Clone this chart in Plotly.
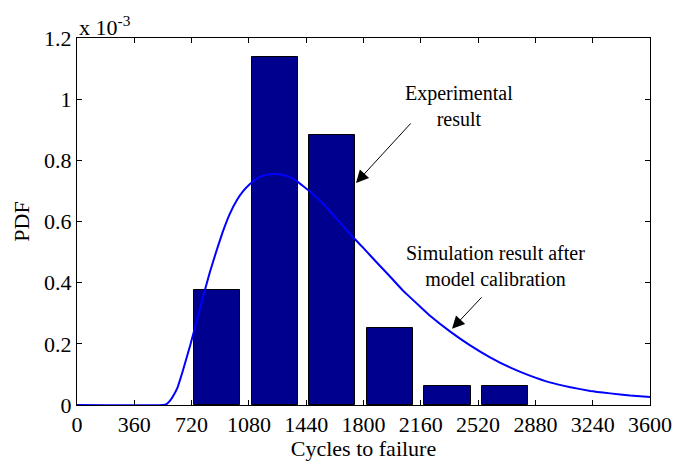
import plotly.graph_objects as go

# Histogram (experimental result), PDF in units of 1e-3
bin_centers = [880, 1242, 1604, 1966, 2328, 2690]
bar_pdf = [0.377, 1.138, 0.884, 0.253, 0.063, 0.063]

# Simulated PDF curve, PDF in units of 1e-3
curve_x = [0, 540, 565, 585, 605, 630, 665, 710, 755, 790, 835, 880, 915, 960, 1005, 1045,
           1085, 1130, 1165, 1195, 1225, 1255, 1295, 1340, 1380, 1420, 1465, 1545, 1635, 1715,
           1800, 1885, 1965, 2050, 2155, 2220, 2345, 2470, 2595, 2720, 2845, 2970, 3100,
           3225, 3350, 3475, 3600]
curve_pdf = [0, 0, 0.004, 0.014, 0.030, 0.055, 0.112, 0.193, 0.280, 0.350, 0.435, 0.510,
             0.565, 0.625, 0.670, 0.700, 0.722, 0.740, 0.749, 0.753, 0.755, 0.755, 0.752,
             0.744, 0.732, 0.716, 0.697, 0.659, 0.607, 0.559, 0.513, 0.465, 0.421, 0.373,
             0.322, 0.291, 0.240, 0.195, 0.156, 0.123, 0.096, 0.074, 0.058, 0.046, 0.038,
             0.031, 0.026]

x_ticks = [0, 360, 720, 1080, 1440, 1800, 2160, 2520, 2880, 3240, 3600]
y_ticks = [0, 0.2, 0.4, 0.6, 0.8, 1.0, 1.2]
y_ticktext = ["0", "0.2", "0.4", "0.6", "0.8", "1", "1.2"]

FONT = "Liberation Serif, Times New Roman, serif"

fig = go.Figure()
fig.add_trace(go.Bar(x=bin_centers, y=bar_pdf, width=290,
                     marker=dict(color="#00008F", line=dict(color="black", width=1)),
                     showlegend=False))
fig.add_trace(go.Scatter(x=curve_x, y=curve_pdf, mode="lines",
                         line=dict(color="#0000FF", width=2, shape="spline", smoothing=0.3),
                         showlegend=False))

axis_common = dict(showline=True, linecolor="black", linewidth=1, mirror="ticks",
                   ticks="inside", ticklen=5, tickcolor="black", showgrid=False,
                   zeroline=False, automargin=False,
                   tickfont=dict(family=FONT, size=22, color="black"))

fig.update_layout(
    width=673, height=461,
    margin=dict(l=77, r=23, t=38, b=56),
    plot_bgcolor="white", paper_bgcolor="white",
    font=dict(family=FONT, color="black"),
    xaxis=dict(range=[0, 3600], tickvals=x_ticks, ticktext=[str(v) for v in x_ticks],
               title=dict(text="Cycles to failure", font=dict(family=FONT, size=22), standoff=12),
               **axis_common),
    yaxis=dict(range=[0, 1.2], tickvals=y_ticks, ticktext=y_ticktext,
               title=dict(text="PDF", font=dict(family=FONT, size=22), standoff=8),
               **axis_common),
    bargap=0,
)

fig.add_annotation(xref="paper", yref="paper", x=0, y=1, xanchor="left", yanchor="bottom",
                   text="x 10<sup>-3</sup>", showarrow=False, yshift=-4,
                   font=dict(family=FONT, size=22, color="black"))

fig.add_annotation(x=1753, y=0.726, ax=56, ay=-61, text="", showarrow=True,
                   arrowhead=2, arrowsize=2.5, arrowwidth=1, arrowcolor="black")
fig.add_annotation(x=2356, y=0.249, ax=31, ay=-33, text="", showarrow=True,
                   arrowhead=2, arrowsize=2.5, arrowwidth=1, arrowcolor="black")

fig.add_annotation(x=(459 - 77) / 573 * 3600, y=(405 - 106) / 367 * 1.2,
                   text="Experimental<br>result", showarrow=False,
                   font=dict(family=FONT, size=20, color="black"))
fig.add_annotation(x=(495 - 77) / 573 * 3600, y=(405 - 266) / 367 * 1.2,
                   text="Simulation result after<br>model calibration", showarrow=False,
                   font=dict(family=FONT, size=20, color="black"))

fig.write_html("out.html")
